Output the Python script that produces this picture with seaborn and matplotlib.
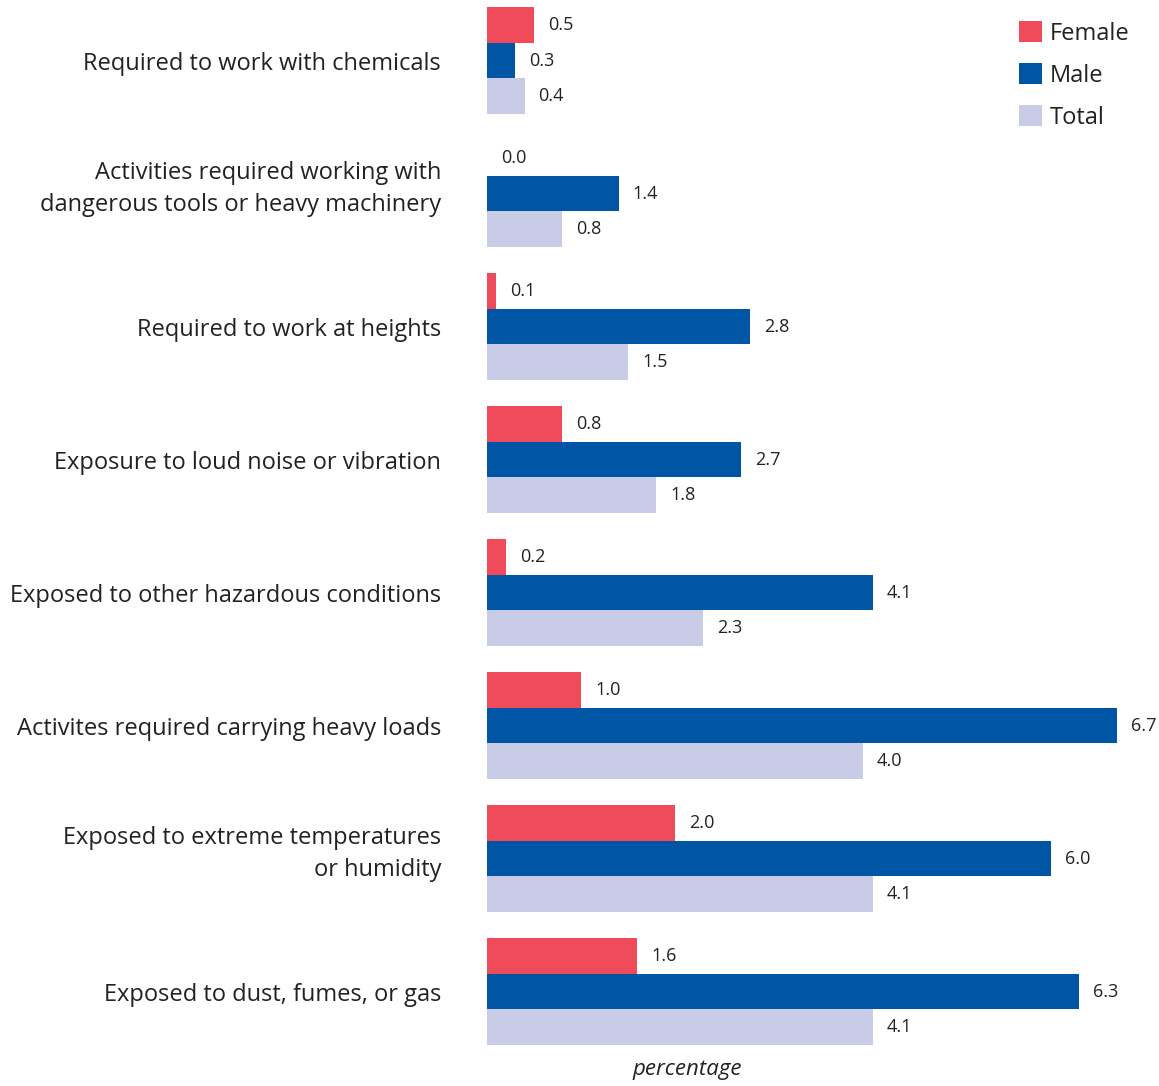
import matplotlib
matplotlib.use("Agg")
import matplotlib.pyplot as plt
import matplotlib.transforms as mtransforms
import seaborn as sns
import pandas as pd
from matplotlib.patches import Patch

categories = [
    "Required to work with chemicals",
    "Activities required working with\ndangerous tools or heavy machinery",
    "Required to work at heights",
    "Exposure to loud noise or vibration",
    "Exposed to other hazardous conditions",
    "Activites required carrying heavy loads",
    "Exposed to extreme temperatures\nor humidity",
    "Exposed to dust, fumes, or gas",
]
female = [0.5, 0.0, 0.1, 0.8, 0.2, 1.0, 2.0, 1.6]
male = [0.3, 1.4, 2.8, 2.7, 4.1, 6.7, 6.0, 6.3]
total = [0.4, 0.8, 1.5, 1.8, 2.3, 4.0, 4.1, 4.1]
series = ["Female", "Male", "Total"]
colors = ["#F04B5A", "#0055A5", "#C8CCE6"]

rows = []
for name, vals in zip(series, [female, male, total]):
    for cat, v in zip(categories, vals):
        rows.append({"category": cat, "group": name, "value": v})
df = pd.DataFrame(rows)

sns.set_style("white")
plt.rcParams["font.family"] = ["Open Sans", "DejaVu Sans"]
text_color = "#222222"

fig = plt.figure(figsize=(11.59, 10.86), dpi=100)
ax = fig.add_axes([0.4202, 0.0368, 0.568, 0.9577])

sns.barplot(data=df, y="category", x="value", hue="group", order=categories,
            hue_order=series, palette=colors, orient="h", width=0.8,
            saturation=1, ax=ax, legend=False, errorbar=None, linewidth=0)

for cont in ax.containers:
    ax.bar_label(cont, fmt="%.1f", padding=10, fontsize=13, color=text_color)

ax.set_xlim(0, 7.0)
ax.set_ylim(len(categories) - 1 + 0.41, -0.41)
ax.set_xticks([])
ax.set_ylabel("")
ax.set_xlabel("percentage", fontsize=16, style="italic", color=text_color)
ax.xaxis.set_label_coords(0.304, -0.012)
ax.xaxis.label.set_va("top")
ax.tick_params(axis="y", length=0, pad=33, labelsize=17, labelcolor=text_color)
for lbl in ax.get_yticklabels():
    lbl.set_linespacing(1.4)
    if "\n" in lbl.get_text():
        # two-line labels sit slightly above the group centre
        lbl.set_transform(lbl.get_transform() +
                          mtransforms.ScaledTranslation(0, 8 / 72, fig.dpi_scale_trans))
for s in ax.spines.values():
    s.set_visible(False)

handles = [Patch(facecolor=c, edgecolor="none") for c in colors]
fig.legend(handles, series, loc="upper right", bbox_to_anchor=(0.993, 1.0),
           frameon=False, fontsize=17, handlelength=0.95, handleheight=0.95,
           handletextpad=0.35, labelspacing=0.75, labelcolor=text_color)

fig.savefig("out.png", dpi=100)
